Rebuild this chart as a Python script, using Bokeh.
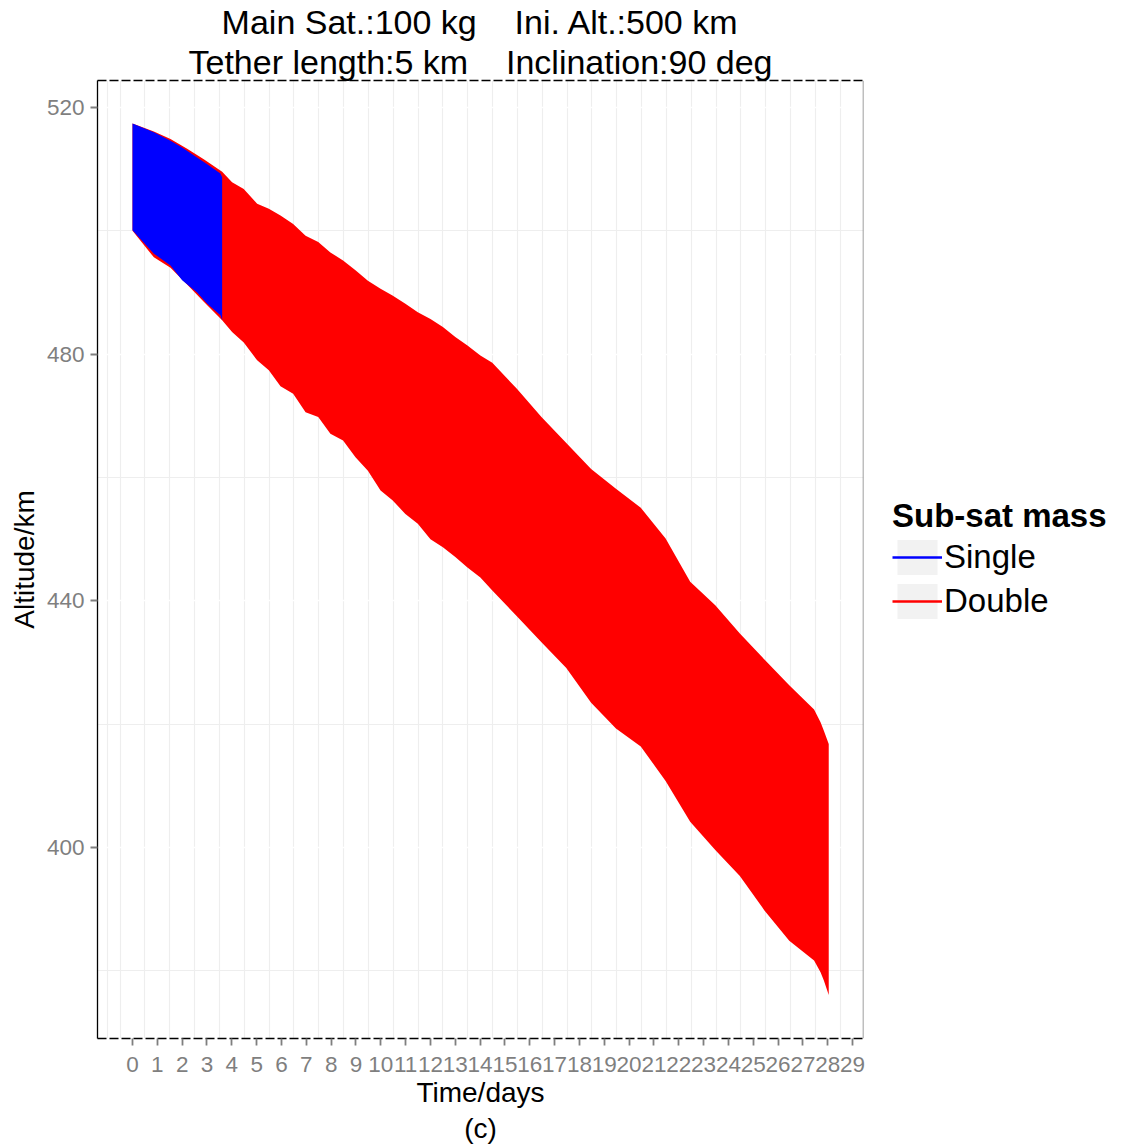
from bokeh.plotting import figure
from bokeh.layouts import row
from bokeh.models import FixedTicker, LinearAxis, Legend, LegendItem, Title, Span, Range1d
from bokeh.embed import file_html
from bokeh.resources import INLINE

FONT = "Liberation Sans"
NB = "\u00a0"

# ---- data ----
x_ticks = list(range(0, 30))
x_minor = [-1, -0.5] + [i + 0.5 for i in range(0, 29)]
y_ticks = [400, 440, 480, 520]
y_minor = [380, 420, 460, 500]

series_names = ["Single", "Double"]
series_colors = ["#0000FF", "#FF0000"]

# envelope (max / min altitude) of each oscillating series
single_days = [0, 0.86, 1.53, 2.0, 2.6, 3.01, 3.54, 3.61]
single_upper = [517.4, 516.0, 514.6, 513.5, 511.9, 510.8, 509.3, 508.7]
single_lower = [500.1, 496.3, 494.4, 492.0, 490.0, 488.2, 486.3, 485.5]

double_days = [0, 0.86, 1.53, 2.2, 2.87, 3.61, 4.01, 4.48, 5.02, 5.49, 5.96,
               6.47, 6.97, 7.48, 7.97, 8.48, 8.98, 9.48, 9.99, 10.47, 10.99,
               11.49, 12.0, 12.5, 13.0, 13.49, 14.01, 14.49, 15.48, 16.47,
               17.47, 18.47, 19.47, 20.47, 21.47, 22.46, 23.47, 24.46, 25.45,
               26.45, 27.45, 27.71, 27.84, 28.04]
double_upper = [517.4, 516.1, 514.9, 513.3, 511.6, 509.6,
                507.9, 506.8, 504.4, 503.6, 502.5, 501.1, 499.2, 498.2, 496.5,
                495.2, 493.6, 491.9, 490.6, 489.5, 488.2, 486.8, 485.7, 484.4,
                482.8, 481.4, 479.8,
                478.6, 474.4, 469.8, 465.6, 461.4, 458.2, 455.1, 450.1, 443.1,
                439.3, 434.7, 430.5, 426.3, 422.4, 420.3, 419.0, 416.8]
double_lower = [500.0, 495.7, 494.0, 491.3, 488.5, 485.5,
                483.6, 481.9, 479.0, 477.4, 474.8, 473.6, 470.6, 469.8, 467.1,
                466.0, 463.3, 461.1, 457.9, 456.3, 454.1, 452.5, 450.0, 448.7,
                447.1, 445.4, 443.8,
                441.7, 437.5, 433.3, 429.1, 423.5, 419.3, 416.4, 410.8, 404.2,
                399.6, 395.4, 389.8, 384.9, 381.7, 379.8, 378.5, 376.1]

title_line1 = "Main Sat.:100 kg" + NB * 4 + "Ini. Alt.:500 km"
title_line2 = "Tether length:5 km" + NB * 4 + "Inclination:90 deg"

GREY = "#7F7F7F"

X_RANGE = (-1.41, 29.44)

p = figure(width=866, height=1145, output_backend="svg", toolbar_location=None,
           title=None,
           x_range=Range1d(*X_RANGE), y_range=Range1d(369.04, 524.38),
           min_border_left=97, min_border_right=3, min_border_top=80,
           min_border_bottom=107,
           x_axis_label="Time/days", y_axis_label="Altitude/km")
p.outline_line_color = None
p.background_fill_color = "white"
p.border_fill_color = "white"

xt = FixedTicker(ticks=x_ticks, minor_ticks=x_minor)
yt = FixedTicker(ticks=y_ticks, minor_ticks=y_minor)
p.xaxis.ticker = xt
p.yaxis.ticker = yt
p.xgrid.ticker = xt
p.ygrid.ticker = yt

for g in (p.xgrid, p.ygrid):
    g.grid_line_color = "white"
    g.grid_line_width = 1.5
    g.minor_grid_line_color = "#EEEEEE"
    g.minor_grid_line_width = 1.2

for ax in (p.xaxis, p.yaxis):
    ax.major_label_text_font = FONT
    ax.major_label_text_font_size = "22.5px"
    ax.major_label_text_color = GREY
    ax.major_tick_line_color = GREY
    ax.major_tick_line_width = 1.8
    ax.major_tick_out = 7
    ax.major_tick_in = 0
    ax.minor_tick_line_color = None
    ax.major_label_standoff = 6
    ax.axis_label_text_font = FONT
    ax.axis_label_text_font_size = "28px"
    ax.axis_label_text_font_style = "normal"
    ax.axis_label_text_color = "black"
    ax.axis_line_color = "black"
    ax.axis_line_width = 1.3

p.xaxis.axis_line_dash = "9 3"
p.xaxis.major_label_standoff = 11
p.xaxis.axis_label_standoff = 2
p.yaxis.axis_label_standoff = 4

# data bands
p.varea(x=double_days, y1=double_lower, y2=double_upper, fill_color=series_colors[1])
p.varea(x=single_days, y1=single_lower, y2=single_upper, fill_color=series_colors[0])

# right border
p.add_layout(Span(location=X_RANGE[1], dimension="height", line_color=GREY, line_width=1.5))

# top dashed border
top_axis = LinearAxis(ticker=FixedTicker(ticks=[]), axis_line_color="black",
                      axis_line_dash="9 3", axis_line_width=1.3,
                      major_tick_out=0, major_tick_in=0,
                      minor_tick_out=0, minor_tick_in=0,
                      major_label_text_font_size="0px")
p.add_layout(top_axis, "above")

# titles
t2 = Title(text=title_line2, align="center", text_font=FONT, text_font_size="34px",
           text_font_style="normal", text_color="black", standoff=0, offset=0)
t1 = Title(text=title_line1, align="center", text_font=FONT, text_font_size="34px",
           text_font_style="normal", text_color="black", standoff=0, offset=0)
p.add_layout(t2, "above")
p.add_layout(t1, "above")

tc = Title(text="(c)", align="center", text_font=FONT, text_font_size="28px",
           text_font_style="normal", text_color="black", standoff=0, offset=0)
p.add_layout(tc, "below")

# legend panel (separate figure to the right)
p2 = figure(width=261, height=1145, output_backend="svg", toolbar_location=None,
            title=None, x_axis_type=None, y_axis_type=None,
            x_range=Range1d(0, 1), y_range=Range1d(0, 1), min_border=0)
p2.outline_line_color = None
p2.background_fill_color = "white"
p2.border_fill_color = "white"

nan = float("nan")
items = []
for name, c in zip(series_names, series_colors):
    box = p2.quad(left=[nan], right=[nan], top=[nan], bottom=[nan],
                  fill_color="#F2F2F2", line_color=None)
    ln = p2.line(x=[nan], y=[nan], line_color=c, line_width=2.5)
    items.append(LegendItem(label=name, renderers=[box, ln]))

legend = Legend(items=items, title="Sub-sat mass", location=(26, 415),
                title_text_font=FONT, title_text_font_size="33px",
                title_text_font_style="bold", title_text_color="black",
                title_standoff=0,
                label_text_font=FONT, label_text_font_size="33px",
                label_text_color="black",
                glyph_width=50, glyph_height=44, spacing=0, padding=0,
                margin=0, label_standoff=2,
                border_line_color=None, background_fill_alpha=0)
p2.add_layout(legend, "center")

layout = row(p, p2)
open("out.html", "w").write(file_html(layout, INLINE))
